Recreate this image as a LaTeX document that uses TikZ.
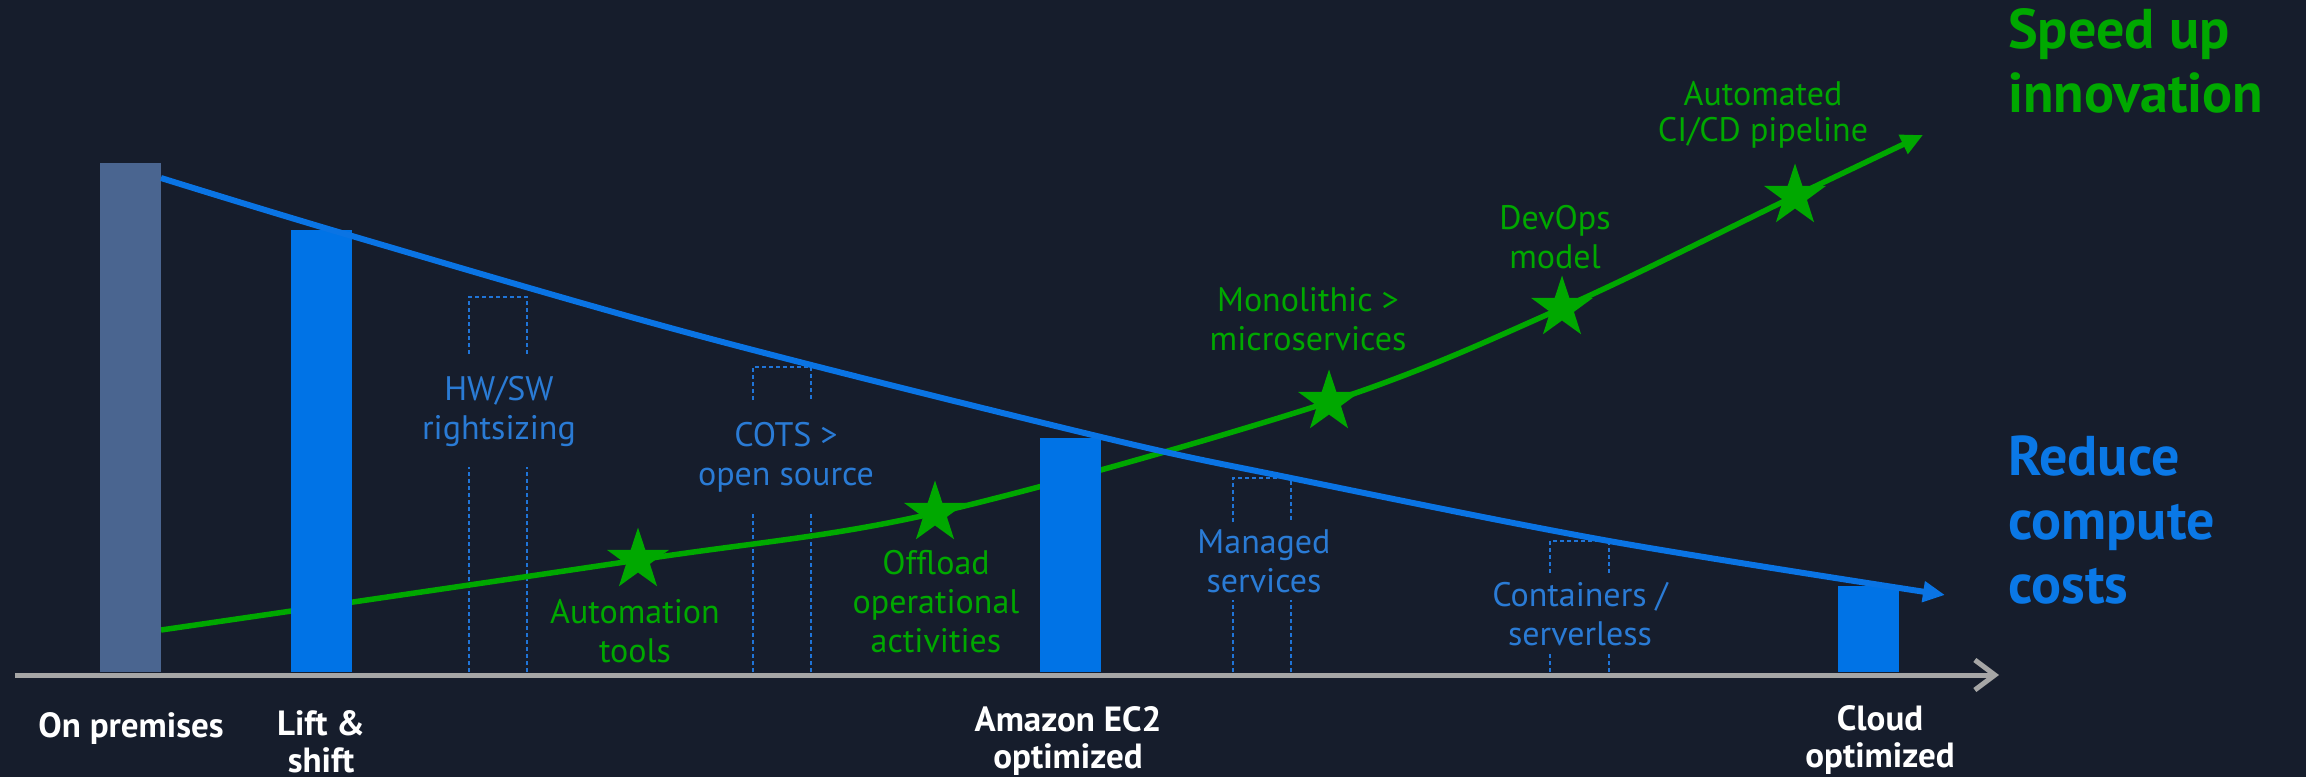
\documentclass[tikz,border=0pt]{standalone}
\usepackage{fontspec}
\setmainfont{PT Sans}
\usetikzlibrary{arrows.meta,shapes.geometric}
\definecolor{bg}{HTML}{161D2C}
\definecolor{barblue}{HTML}{0073E6}
\definecolor{bargray}{HTML}{4A6590}
\definecolor{lineblue}{HTML}{0A74E4}
\definecolor{txtblue}{HTML}{2A7BD5}
\definecolor{dashblue}{HTML}{1F74D8}
\definecolor{grn}{HTML}{00A800}
\definecolor{axisgray}{HTML}{A6A6A6}
\definecolor{titleblue}{HTML}{0A78E6}
\tikzset{
  barbox/.style={fill=#1, draw=none, inner sep=0pt, anchor=north west},
  dashline/.style={draw=dashblue, line width=1.5pt, dash pattern=on 4pt off 3pt},
  bluelbl/.style={text=txtblue, align=center, inner sep=0pt, font=\fontsize{34}{39}\selectfont},
  grnlbl/.style={text=grn, align=center, inner sep=0pt, font=\fontsize{34}{39}\selectfont},
  axlbl/.style={text=white, align=center, inner sep=0pt, anchor=base, font=\bfseries\fontsize{35}{37}\selectfont},
  title/.style={text=#1, align=left, anchor=base west, inner sep=0pt, font=\bfseries\fontsize{56}{64}\selectfont},
  starmark/.style={star, star points=5, star point ratio=2.6, minimum size=65pt, inner sep=0pt, fill=grn, draw=none},
}
\newcommand\dashcol[5]{%
  \draw[dashline] (#1,672) -- (#1,#5) (#2,672) -- (#2,#5);
  \draw[dashline] (#1,#4) -- (#1,#3) -- (#2,#3) -- (#2,#4);}
\begin{document}
\begin{tikzpicture}[x=1pt,y=-1pt]
\fill[bg] (0,0) rectangle (2306,777);
\useasboundingbox (0,0) rectangle (2306,777);

% dashed columns
\dashcol{469}{527}{297}{354}{467}
\dashcol{753}{811}{367}{400}{512}
\dashcol{1233}{1291}{478}{522}{600}
\dashcol{1550}{1609}{541}{573}{653}

% green curve
\coordinate (g0) at (161,630);
\coordinate (g1) at (638,560);
\coordinate (g2) at (935,513);
\coordinate (g3) at (1329,402);
\coordinate (g4) at (1562,308);
\coordinate (g5) at (1795,196);
\coordinate (g6) at (1923,135);
\draw[grn, line width=5.5pt, -{Triangle[length=22pt,width=20pt]}]
  plot[smooth, tension=0.55] coordinates {(g0) (g1) (g2) (g3) (g4) (g5) (g6)};

% bars
\node[barbox=bargray, minimum width=61pt, minimum height=509pt] (b1) at (100,163) {};
\node[barbox=barblue, minimum width=61pt, minimum height=442pt] (b2) at (291,230) {};
\node[barbox=barblue, minimum width=61pt, minimum height=234pt] (b3) at (1040,438) {};
\node[barbox=barblue, minimum width=61pt, minimum height=86pt] (b4) at (1838,586) {};

% blue curve
\coordinate (c0) at (161,178);
\coordinate (c1) at (352,236);
\coordinate (c2) at (700,336);
\coordinate (c3) at (1101,437);
\coordinate (c4) at (1291,478);
\coordinate (c5) at (1609,541);
\coordinate (c6) at (1945,595);
\draw[lineblue, line width=6pt, -{Triangle[length=22pt,width=20pt]}]
  plot[smooth, tension=0.55] coordinates {(c0) (c1) (c2) (c3) (c4) (c5) (c6)};

% stars
\node[starmark] (s1) at (g1) {};
\node[starmark] (s2) at (g2) {};
\node[starmark] (s3) at (g3) {};
\node[starmark] (s4) at (g4) {};
\node[starmark] (s5) at (g5) {};

% axis
\coordinate (ax0) at (15,675);
\coordinate (ax1) at (1999,675);
\draw[axisgray, line width=5pt, -{Straight Barb[length=20pt,width=30pt]}] (ax0) -- (ax1);

% blue labels
\node[bluelbl] (l1) at (499,411) {HW/SW\\rightsizing};
\node[bluelbl] (l2) at (786,457) {COTS >\\open source};
\node[bluelbl] (l3) at (1264,561) {Managed\\services};
\node[bluelbl] (l4) at (1580,614) {Containers /\\serverless};

% green labels
\node[grnlbl] (m1) at (635,631) {Automation\\tools};
\node[grnlbl] (m2) at (936,602) {Offload\\operational\\activities};
\node[grnlbl] (m3) at (1308,319) {Monolithic >\\microservices};
\node[grnlbl] (m4) at (1555,237) {DevOps\\model};
\node[grnlbl, anchor=base, font=\fontsize{34}{36}\selectfont] (m5) at (1763,141) {Automated\\CI/CD pipeline};

% axis labels (anchor = baseline of last line)
\node[axlbl] (a1) at (131,737) {On premises};
\node[axlbl] (a2) at (321,772) {Lift \&\\shift};
\node[axlbl] (a3) at (1068,768) {Amazon EC2\\optimized};
\node[axlbl] (a4) at (1880,767) {Cloud\\optimized};

% titles (anchor = baseline of last line)
\node[title=grn] (t1) at (2008,112) {Speed up\\innovation};
\node[title=titleblue] (t2) at (2008,603) {Reduce\\compute\\costs};
\end{tikzpicture}
\end{document}
